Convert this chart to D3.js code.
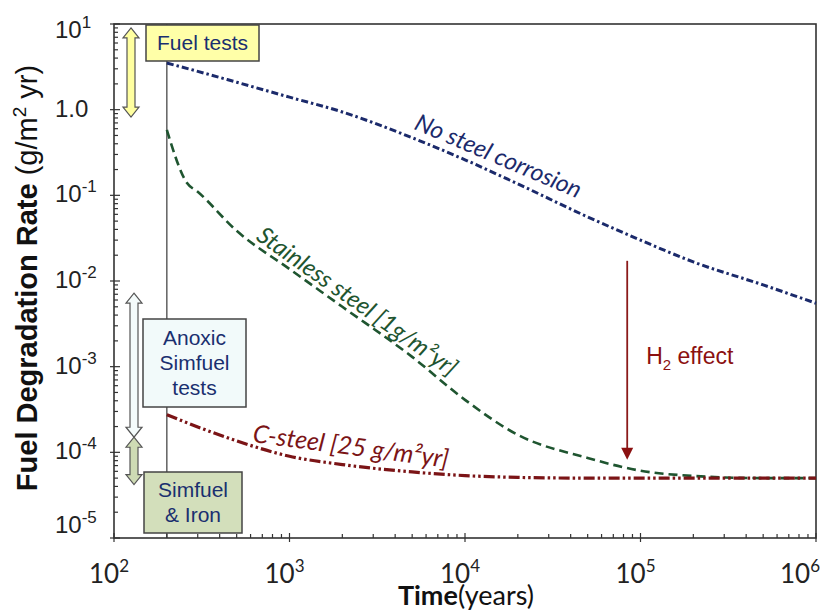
<!DOCTYPE html>
<html>
<head>
<meta charset="utf-8">
<script src="https://cdn.jsdelivr.net/npm/d3@7"></script>
<style>
body { margin: 0; background: #fff; }
</style>
</head>
<body>
<div id="chart"></div>
<script>
// time axis samples (years)
var times = [200, 300, 500, 1000, 2000, 5000, 1e4, 2e4, 5e4, 1e5, 2e5, 5e5, 1e6];
// fuel degradation rate, g/m2 yr
var noSteel = [3.5, 2.8, 2.09, 1.40, 0.94, 0.47, 0.26, 0.136, 0.056, 0.030, 0.0167, 0.0090, 0.0055];
var cSteel  = [2.75e-4, 1.98e-4, 1.36e-4, 9.0e-5, 7.2e-5, 5.9e-5, 5.35e-5, 5.1e-5, 5.0e-5, 5.0e-5, 5.0e-5, 5.0e-5, 5.0e-5];
// stainless curve has an extra kink point
var stainlessTimes = [200, 260, 300, 500, 1000, 2000, 5000, 1e4, 2e4, 5e4, 1e5, 2e5, 5e5, 1e6];
var stainless = [0.58, 0.14, 0.11, 0.0385, 0.0138, 0.0050, 1.3e-3, 4.1e-4, 1.6e-4, 8.6e-5, 6.1e-5, 5.3e-5, 5.0e-5, 5.0e-5];

var xTicks = [1e2, 1e3, 1e4, 1e5, 1e6];
var xTickExp = ["2", "3", "4", "5", "6"];
var yTicks = [10, 1, 0.1, 0.01, 1e-3, 1e-4, 1e-5];
var yTickBase = ["10", "1.0", "10", "10", "10", "10", "10"];
var yTickExp = ["1", "", "-1", "-2", "-3", "-4", "-5"];

// experimental ranges shown as double arrows on the left [top, bottom]
var fuelTestRange = [9.0, 0.82];
var anoxicRange = [7.2e-3, 1.5e-4];
var ironRange = [1.5e-4, 4.2e-5];

var W = 832, H = 611;
var navy = "#1b2a6b", green = "#1f5530", red = "#7b1416";

var svg = d3.select("#chart").append("svg")
    .attr("width", W)
    .attr("height", H);

var x = d3.scaleLog().domain([100, 1e6]).range([114, 816]);
var y = d3.scaleLog().domain([1e-5, 10]).range([538, 24]);

// vertical marker at 200 years (sits behind the boxes)
svg.append("line")
    .attr("x1", x(200)).attr("x2", x(200))
    .attr("y1", y(10)).attr("y2", y(1e-5))
    .attr("stroke", "#555").attr("stroke-width", 1.4);

// frame
svg.append("rect")
    .attr("x", x(100)).attr("y", y(10))
    .attr("width", x(1e6) - x(100))
    .attr("height", y(1e-5) - y(10))
    .attr("fill", "none")
    .attr("stroke", "#333")
    .attr("stroke-width", 1.6);

// ticks
var isMajor = function(v){ return Math.abs(Math.log10(v) - Math.round(Math.log10(v))) < 1e-9; };
var ticks = svg.append("g").attr("stroke", "#333").attr("stroke-width", 1.2);
y.ticks().forEach(function(v){
    var major = isMajor(v);
    ticks.append("line")
        .attr("x1", x(100) - (major ? 4 : 0))
        .attr("x2", x(100) + (major ? 6 : 4))
        .attr("y1", y(v)).attr("y2", y(v));
});
x.ticks().forEach(function(v){
    var major = isMajor(v);
    ticks.append("line")
        .attr("x1", x(v)).attr("x2", x(v))
        .attr("y1", y(1e-5) + (major ? 4 : 0))
        .attr("y2", y(1e-5) - (major ? 5 : 4));
});

// y tick labels
yTicks.forEach(function(v, i){
    var by = Math.min(Math.max(y(v) + 7, 38), 533);
    var t = svg.append("text")
        .attr("x", 55).attr("y", by)
        .attr("font-family", "Liberation Sans, Arial, sans-serif")
        .attr("font-size", 24)
        .attr("fill", "#222");
    t.append("tspan").text(yTickBase[i]);
    if (yTickExp[i]) {
        t.append("tspan").attr("font-size", 17).attr("dy", -10).text(yTickExp[i]);
    }
});

// x tick labels
xTicks.forEach(function(v, i){
    var t = svg.append("text")
        .attr("x", Math.min(x(v) - 5, 800)).attr("y", 583)
        .attr("text-anchor", "middle")
        .attr("font-family", "Lato, sans-serif")
        .attr("font-size", 26)
        .attr("fill", "#222");
    t.append("tspan").text("10");
    t.append("tspan").attr("font-size", 17).attr("dy", -11).text(xTickExp[i]);
});

// axis titles
var xt = svg.append("text")
    .attr("x", 466).attr("y", 605)
    .attr("text-anchor", "middle")
    .attr("font-family", "Lato, sans-serif")
    .attr("font-size", 27)
    .attr("fill", "#111");
xt.append("tspan").attr("font-weight", "bold").text("Time");
xt.append("tspan").text("(years)");

var yt = svg.append("text")
    .attr("transform", "translate(37,278) rotate(-90)")
    .attr("text-anchor", "middle")
    .attr("font-family", "Liberation Sans, Arial, sans-serif")
    .attr("font-size", 29)
    .attr("fill", "#111");
yt.append("tspan").attr("font-weight", "bold").text("Fuel Degradation Rate ");
yt.append("tspan").text("(g/m");
yt.append("tspan").attr("font-size", 19).attr("dy", -11).text("2");
yt.append("tspan").attr("dy", 11).text(" yr)");

// curves
var line = d3.line()
    .x(function(d){ return x(d[0]); })
    .y(function(d){ return y(d[1]); })
    .curve(d3.curveMonotoneX);

svg.append("path")
    .datum(d3.zip(times, noSteel))
    .attr("d", line)
    .attr("fill", "none")
    .attr("stroke", navy)
    .attr("stroke-width", 3)
    .attr("stroke-dasharray", "7,3,2.5,3");

svg.append("path")
    .datum(d3.zip(stainlessTimes, stainless))
    .attr("d", line)
    .attr("fill", "none")
    .attr("stroke", green)
    .attr("stroke-width", 2.6)
    .attr("stroke-dasharray", "9,5");

svg.append("path")
    .datum(d3.zip(times, cSteel))
    .attr("d", line)
    .attr("fill", "none")
    .attr("stroke", red)
    .attr("stroke-width", 3.2)
    .attr("stroke-dasharray", "11,3,2.5,3,2.5,3");

// curve labels
function curveLabel(t, v, angle, size, color, s){
    svg.append("text")
        .attr("transform", "translate(" + x(t) + "," + y(v) + ") rotate(" + angle + ")")
        .attr("font-family", "Lato, sans-serif")
        .attr("font-style", "italic")
        .attr("font-size", size)
        .attr("fill", color)
        .text(s);
}
curveLabel(5060, 0.60, 23, 24, navy, "No steel corrosion");
curveLabel(636, 0.031, 35.3, 24, green, "Stainless steel [1g/m\u00b2yr]");
curveLabel(611, 1.32e-4, 7.5, 25, red, "C-steel [25 g/m\u00b2yr]");

// H2 effect arrow
var hx = x(8.4e4);
svg.append("line")
    .attr("x1", hx).attr("x2", hx)
    .attr("y1", y(0.0172)).attr("y2", y(8.2e-5) - 11)
    .attr("stroke", "#8b1a1a").attr("stroke-width", 1.8);
svg.append("path")
    .attr("d", "M" + (hx - 6) + "," + (y(8.2e-5) - 12) + "L" + (hx + 6) + "," + (y(8.2e-5) - 12) + "L" + hx + "," + y(8.2e-5) + "Z")
    .attr("fill", "#8b1010");
var h2 = svg.append("text")
    .attr("x", hx + 19).attr("y", y(1.08e-3))
    .attr("font-family", "Liberation Sans, Arial, sans-serif")
    .attr("font-size", 23)
    .attr("fill", "#8b1010");
h2.append("tspan").text("H");
h2.append("tspan").attr("font-size", 15).attr("dy", 6).text("2");
h2.append("tspan").attr("dy", -6).text(" effect");

// double arrows for test ranges
function doubleArrow(cx, r, fill){
    var y0 = y(r[0]), y1 = y(r[1]), sw = 4, hw = 8, hl = 10;
    var p = [[cx, y0], [cx + hw, y0 + hl], [cx + sw, y0 + hl], [cx + sw, y1 - hl], [cx + hw, y1 - hl],
             [cx, y1], [cx - hw, y1 - hl], [cx - sw, y1 - hl], [cx - sw, y0 + hl], [cx - hw, y0 + hl]];
    svg.append("path")
        .attr("d", "M" + p.join("L") + "Z")
        .attr("fill", fill)
        .attr("stroke", "#555")
        .attr("stroke-width", 1.2);
}
doubleArrow(131, fuelTestRange, "#ffffa0");
doubleArrow(134, anoxicRange, "#f4fbfb");
doubleArrow(134, ironRange, "#cedbb4");

// test boxes
function box(bx, by, bw, bh, fill, lines, base){
    svg.append("rect")
        .attr("x", bx).attr("y", by).attr("width", bw).attr("height", bh)
        .attr("fill", fill).attr("stroke", "#444").attr("stroke-width", 1.5);
    lines.forEach(function(s, i){
        svg.append("text")
            .attr("x", bx + bw / 2).attr("y", base + i * 25)
            .attr("text-anchor", "middle")
            .attr("font-family", "Liberation Sans, Arial, sans-serif")
            .attr("font-size", 21)
            .attr("fill", "#1a2f6f")
            .text(s);
    });
}
box(146, 25, 113, 36, "#ffffa8", ["Fuel tests"], 50);
box(143, 319, 103, 88, "#f2fafa", ["Anoxic", "Simfuel", "tests"], 345);
box(144, 472, 98, 61, "#d3dfbb", ["Simfuel", "& Iron"], 497);
</script>
</body>
</html>
